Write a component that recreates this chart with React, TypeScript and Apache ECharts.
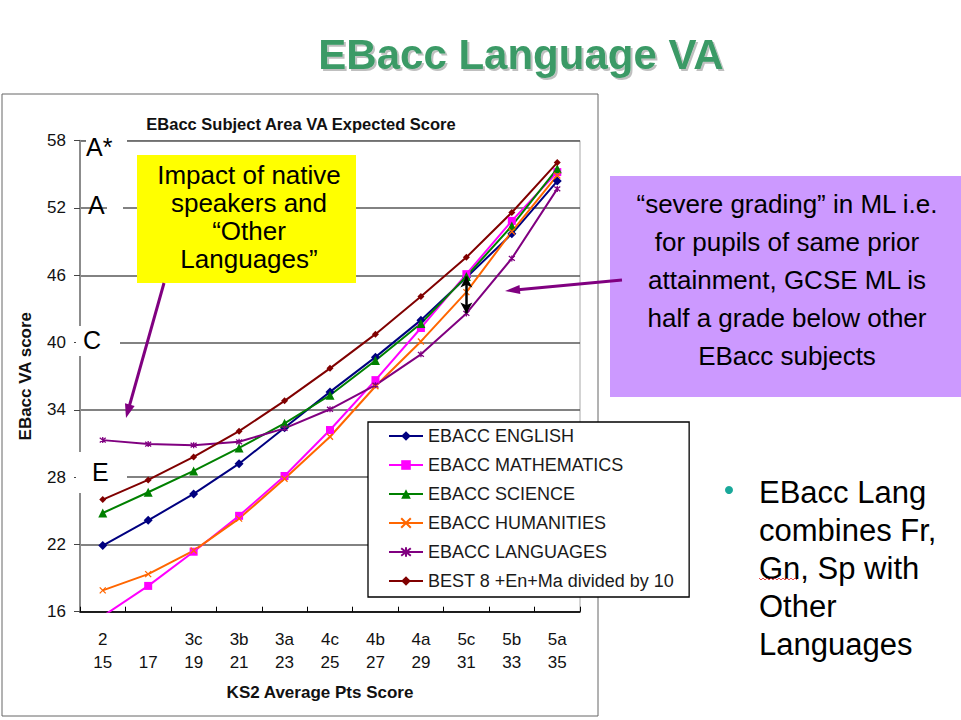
import React, { useEffect, useRef } from "react";
import * as echarts from "echarts";

// ---------- data ----------
const ks2Levels = ["2", "", "3c", "3b", "3a", "4c", "4b", "4a", "5c", "5b", "5a"];
const ks2Points = ["15", "17", "19", "21", "23", "25", "27", "29", "31", "33", "35"];

const english = [21.9, 24.15, 26.5, 29.2, 32.4, 35.6, 38.7, 42.0, 45.8, 49.7, 54.4];
const maths = [15.6, 18.3, 21.35, 24.55, 28.1, 32.2, 36.65, 41.3, 46.1, 50.85, 55.2];
const science = [24.8, 26.65, 28.55, 30.6, 32.8, 35.3, 38.4, 41.7, 45.9, 50.4, 55.5];
const humanities = [17.9, 19.35, 21.45, 24.3, 27.85, 31.6, 36.1, 40.1, 44.5, 49.9, 54.9];
const languages = [31.3, 30.95, 30.85, 31.15, 32.35, 34.05, 36.2, 38.95, 42.6, 47.5, 53.7];
const best8 = [26.0, 27.75, 29.8, 32.1, 34.8, 37.7, 40.75, 44.1, 47.6, 51.6, 56.05];

const seriesNames = [
  "EBACC ENGLISH",
  "EBACC MATHEMATICS",
  "EBACC SCIENCE",
  "EBACC HUMANITIES",
  "EBACC LANGUAGES",
  "BEST 8 +En+Ma divided by 10",
];

const yMin = 16;
const yMax = 58;
const yStep = 6;

// severe-grading gap at KS2 31 (index 8): from other subjects to languages
const gapIndex = 8;
const gapTop = 45.9;
const gapBottom = 42.6;

const gradeLetters = ["A*", "A", "C", "E"];

const FONT = "'Liberation Sans', Arial, Helvetica, sans-serif";

function arrow(x1: number, y1: number, x2: number, y2: number, color: string, w: number, head = 14, half = 5) {
  const dx = x2 - x1;
  const dy = y2 - y1;
  const L = Math.hypot(dx, dy);
  const ux = dx / L;
  const uy = dy / L;
  const nx = -uy;
  const ny = ux;
  const bx = x2 - ux * head;
  const by = y2 - uy * head;
  return [
    { type: "line", z: 100, shape: { x1, y1, x2: bx + ux * 2, y2: by + uy * 2 }, style: { stroke: color, lineWidth: w } },
    {
      type: "polygon",
      z: 100,
      shape: { points: [[x2, y2], [bx + nx * half, by + ny * half], [bx - nx * half, by - ny * half]] },
      style: { fill: color },
    },
  ];
}

function mkSeries(name: string, data: number[], color: string, symbol: string, size: number, stroke = 0, extra: any = {}) {
  return {
    name,
    type: "line",
    data,
    symbol,
    symbolSize: size,
    showSymbol: true,
    clip: true,
    lineStyle: { color, width: 2 },
    itemStyle: { color, borderColor: color, borderWidth: stroke },
    emphasis: { disabled: true },
    ...extra,
  };
}

export default function App() {
  const ref = useRef<HTMLDivElement>(null);

  useEffect(() => {
    document.body.style.margin = "0";
    const chart = echarts.init(ref.current!, null, { renderer: "svg" });

    const purple = "#800080";

    const letterStyle = (text: string, x: number, y: number) => ({
      type: "text",
      z: 95,
      style: { text, x, y, fill: "#000", font: `25px ${FONT}`, align: "left", verticalAlign: "middle" },
    });

    const option: any = {
      animation: false,
      backgroundColor: "#ffffff",
      textStyle: { fontFamily: FONT },
      grid: {
        left: 80,
        top: 140.7,
        right: 381,
        bottom: 108.3,
        show: true,
        borderColor: "#a8a8a8",
        borderWidth: 1,
        backgroundColor: "transparent",
      },
      xAxis: {
        type: "category",
        data: ks2Levels.map((l, i) => `${l}\n${ks2Points[i]}`),
        boundaryGap: true,
        axisLine: { show: true, lineStyle: { color: "#000", width: 1.5 } },
        axisTick: { show: true, inside: true, length: 5, lineStyle: { color: "#000", width: 1 } },
        axisLabel: { interval: 0, fontSize: 17, lineHeight: 23, margin: 16, color: "#111", fontFamily: FONT },
        splitLine: { show: false },
        name: "KS2 Average Pts Score",
        nameLocation: "middle",
        nameGap: 72,
        nameTextStyle: { fontSize: 17, fontWeight: "bold", color: "#111", fontFamily: FONT, padding: [0, 20, 0, 0] },
      },
      yAxis: {
        type: "value",
        min: yMin,
        max: yMax,
        interval: yStep,
        axisLine: { show: true, lineStyle: { color: "#8c8c8c", width: 2 } },
        axisTick: { show: true, inside: false, length: 6, lineStyle: { color: "#444", width: 1 } },
        axisLabel: { fontSize: 17, margin: 14, color: "#111", fontFamily: FONT },
        splitLine: { show: true, lineStyle: { color: "#595959", width: 1.5 } },
        name: "EBacc VA score",
        nameLocation: "middle",
        nameGap: 46,
        nameRotate: 90,
        nameTextStyle: { fontSize: 17, fontWeight: "bold", color: "#111", fontFamily: FONT },
      },
      legend: {
        orient: "vertical",
        left: 368,
        top: 422,
        data: seriesNames,
        itemWidth: 34,
        itemHeight: 12,
        itemGap: 11,
        padding: [5, 15, 7, 20],
        backgroundColor: "#ffffff",
        borderColor: "#000000",
        borderWidth: 1.3,
        selectedMode: false,
        textStyle: { fontSize: 18, lineHeight: 18, color: "#1a1a1a", fontFamily: FONT },
      },
      series: [
        mkSeries(seriesNames[0], english, "#000080", "diamond", 9),
        mkSeries(seriesNames[1], maths, "#FF00FF", "rect", 8),
        mkSeries(seriesNames[2], science, "#008000", "triangle", 9),
        mkSeries(seriesNames[3], humanities, "#FF6600", "path://M0,0L10,10M10,0L0,10", 6, 1.3),
        mkSeries(seriesNames[4], languages, purple, "path://M5,0L5,10M1,1L9,9M9,1L1,9", 6, 1.3, {
          markLine: {
            silent: true,
            symbol: ["arrow", "arrow"],
            symbolSize: [9, 11],
            label: { show: false },
            lineStyle: { color: "#000", width: 2.5, type: "solid" },
            data: [[{ coord: [gapIndex, gapTop] }, { coord: [gapIndex, gapBottom] }]],
          },
        }),
        mkSeries(seriesNames[5], best8, "#800000", "diamond", 7),
      ],
      graphic: [
        // chart frame
        { type: "rect", z: -10, shape: { x: 2, y: 94, width: 596, height: 622 }, style: { fill: "none", stroke: "#666", lineWidth: 1 } },
        // slide title
        {
          type: "text",
          z: 100,
          style: {
            text: "EBacc Language VA",
            x: 521,
            y: 54,
            fill: "#3A9A66",
            font: `bold 42px ${FONT}`,
            align: "center",
            verticalAlign: "middle",
            textShadowColor: "rgba(0,0,0,0.25)",
            textShadowOffsetX: 2,
            textShadowOffsetY: 2,
            textShadowBlur: 1,
          },
        },
        // chart title
        {
          type: "text",
          z: 100,
          style: {
            text: "EBacc Subject Area VA Expected Score",
            x: 301,
            y: 124,
            fill: "#111",
            font: `bold 16.5px ${FONT}`,
            align: "center",
            verticalAlign: "middle",
          },
        },
        // white patches behind grade letters
        { type: "rect", z: 90, shape: { x: 86, y: 132, width: 41, height: 36 }, style: { fill: "#fff" } },
        { type: "rect", z: 90, shape: { x: 107, y: 196, width: 16, height: 22 }, style: { fill: "#fff" } },
        { type: "rect", z: 90, shape: { x: 76, y: 326, width: 44, height: 30 }, style: { fill: "#fff" } },
        { type: "rect", z: 90, shape: { x: 76, y: 452, width: 51, height: 34 }, style: { fill: "#fff" } },
        { type: "rect", z: 90, shape: { x: 76, y: 452, width: 12, height: 41 }, style: { fill: "#fff" } },
        letterStyle(gradeLetters[0], 86, 147),
        letterStyle(gradeLetters[1], 88, 205),
        letterStyle(gradeLetters[2], 83, 340),
        letterStyle(gradeLetters[3], 92, 472),
        // yellow note
        { type: "rect", z: 100, shape: { x: 137, y: 155, width: 219, height: 128 }, style: { fill: "#FFFF00" } },
        {
          type: "text",
          z: 101,
          style: {
            text: "Impact of native\nspeakers and\n\u201COther\nLanguages\u201D",
            x: 249,
            y: 161,
            fill: "#000",
            font: `26px ${FONT}`,
            lineHeight: 28,
            align: "center",
            verticalAlign: "top",
          },
        },
        ...arrow(164, 283, 126, 418, purple, 3, 14, 5),
        // lavender note
        { type: "rect", z: 100, shape: { x: 610, y: 176, width: 351, height: 221 }, style: { fill: "#CC99FF" } },
        {
          type: "text",
          z: 101,
          style: {
            text:
              "\u201Csevere grading\u201D in ML i.e.\nfor pupils of same prior\nattainment, GCSE ML is\nhalf a grade below other\nEBacc subjects",
            x: 787,
            y: 185,
            fill: "#000",
            font: `26px ${FONT}`,
            lineHeight: 38,
            align: "center",
            verticalAlign: "top",
          },
        },
        ...arrow(622, 280, 505, 291, purple, 3, 15, 4.5),
        // bullet
        { type: "circle", z: 100, shape: { cx: 729, cy: 490, r: 4 }, style: { fill: "#19A89A" } },
        {
          type: "text",
          z: 101,
          style: {
            text: "EBacc Lang\ncombines Fr,\nGn, Sp with\nOther\nLanguages",
            x: 759,
            y: 473,
            fill: "#000",
            font: `31px ${FONT}`,
            lineHeight: 38,
            align: "left",
            verticalAlign: "top",
          },
        },
        {
          type: "polyline",
          z: 102,
          shape: {
            points: [
              [759, 578], [761, 580], [763, 578], [765, 580], [767, 578], [769, 580], [771, 578], [773, 580],
              [775, 578], [777, 580], [779, 578], [781, 580], [783, 578], [785, 580], [787, 578], [789, 580],
              [791, 578], [793, 580], [795, 578], [797, 580],
            ],
          },
          style: { stroke: "#e02020", lineWidth: 0.8, fill: "none" },
        },
      ],
    };

    chart.setOption(option);
    return () => chart.dispose();
  }, []);

  return <div ref={ref} style={{ position: "absolute", left: 0, top: 0, width: 961, height: 720 }} />;
}
